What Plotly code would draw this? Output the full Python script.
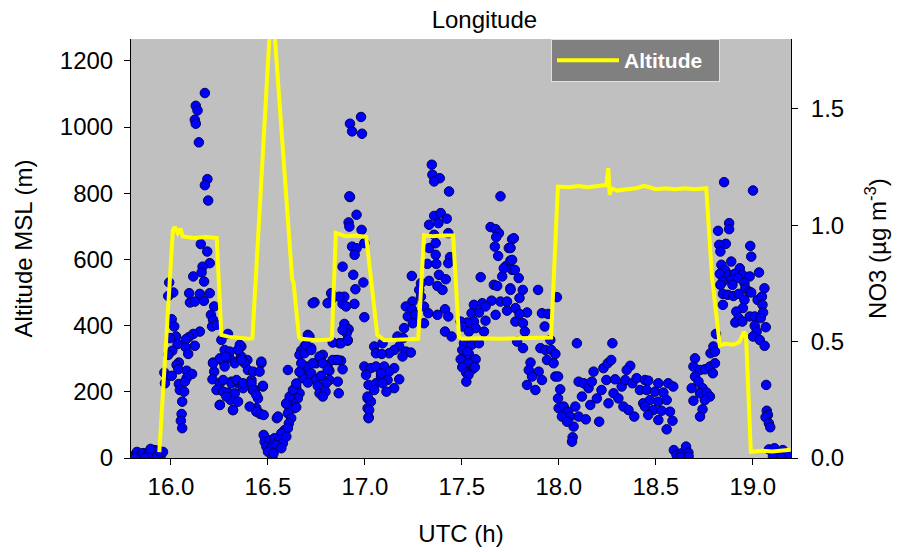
import plotly.graph_objects as go

# ---------------- Altitude (left axis, m) ----------------
alt_utc = [15.94, 16.01, 16.02, 16.035, 16.05, 16.06, 16.08, 16.12, 16.18, 16.236,
           16.26, 16.30, 16.40, 16.42, 16.52, 16.625, 16.632, 16.66, 16.67, 16.75,
           16.82, 16.83, 16.85, 16.90, 16.95, 17.0, 17.007, 17.064, 17.10, 17.20,
           17.275, 17.305, 17.35, 17.40, 17.455, 17.485, 17.50, 17.60, 17.70, 17.80,
           17.90, 17.96, 17.995, 18.05, 18.10, 18.15, 18.20, 18.245, 18.255, 18.262,
           18.27, 18.30, 18.35, 18.40, 18.44, 18.50, 18.55, 18.60, 18.65, 18.70,
           18.76, 18.785, 18.79, 18.83, 18.86, 18.90, 18.93, 18.955, 18.965, 18.99,
           19.05, 19.10, 19.15, 19.195]
alt_m = [18, 689, 698, 680, 693, 670, 668, 665, 668, 665,
         372, 366, 360, 362, 1400, 540, 530, 366, 360, 356,
         358, 362, 680, 670, 672, 670, 668, 372, 356, 358,
         360, 673, 670, 672, 672, 366, 360, 362, 360, 362,
         362, 364, 820, 818, 822, 818, 822, 825, 876, 795,
         815, 808, 812, 815, 822, 812, 815, 812, 815, 812,
         815, 560, 545, 340, 345, 342, 350, 381, 370, 19,
         22, 20, 22, 25]

# ---------------- NO3 (right axis, ug m-3) ----------------
no3_utc = [
    # start, near zero
    15.805, 15.825, 15.841, 15.856, 15.872, 15.887, 15.902, 15.918, 15.933, 15.949,
    15.959, 15.815, 15.864, 15.895, 15.926, 15.94,
    # 16.0 - 16.45
    16.175, 16.128, 16.137, 16.123, 16.128, 16.144, 16.188, 16.175, 16.192, 16.154,
    16.187, 16.2, 16.163, 16.158, 16.171, 16.115, 15.991, 16.012, 15.986, 16.094,
    16.149, 16.098, 16.123, 16.170, 16.2, 16.223, 16.004, 16.206, 16.017, 16.217,
    16.212, 16.235, 16.026, 15.995, 16.149, 16.115, 16.092, 16.077, 16.034, 16.26,
    16.123, 16.076, 16.294, 16.277, 16.007, 16.089, 15.986, 16.041, 16.029, 16.217,
    16.269, 16.303, 16.346, 16.363, 16.038, 16.081, 16.109, 15.966, 15.981, 16.004,
    16.223, 16.277, 16.355, 16.394, 16.081, 15.969, 16.041, 16.072, 16.214, 16.252,
    16.312, 16.346, 16.046, 16.068, 16.235, 16.269, 16.294, 16.329, 16.372, 16.058,
    16.308, 16.252, 16.32, 16.055, 16.051, 16.058,
    16.303, 16.355, 16.363, 16.380, 16.397, 16.415, 16.432, 16.449, 16.474, 16.466,
    16.440, 16.457, 16.320, 16.346, 16.406, 16.252, 16.286, 16.312, 16.338, 16.372,
    16.269, 16.217, 16.252, 16.283, 16.329, 16.346, 16.363, 16.423,
    # 16.45 - 17.1
    16.980, 16.923, 16.934, 16.985, 16.923, 16.957, 16.916, 16.920, 16.983, 16.934,
    16.957, 16.947, 16.997, 16.885, 16.940, 16.992, 16.951, 16.826, 16.834, 16.808,
    16.740, 16.894, 16.885, 16.946, 16.997, 16.894, 16.916, 16.906, 16.911, 16.706,
    16.868, 16.834, 16.689, 16.723, 16.672, 16.663, 17.048, 17.057, 16.783, 16.851,
    16.877, 16.466, 16.749, 16.697, 16.808, 16.603, 16.817, 16.885, 16.672, 16.723,
    16.423, 16.457, 16.997, 17.031, 17.057, 17.006, 17.083, 16.680, 16.749, 16.774,
    16.817, 16.860, 16.706, 16.800, 16.474, 16.415, 16.757, 17.019, 17.057, 16.766,
    16.797, 16.865, 17.048, 16.646, 16.663, 16.423, 16.440, 16.783, 16.654, 16.629,
    16.595, 17.014, 17.031, 16.637, 16.612, 16.646, 16.440, 16.461, 16.478, 17.014,
    17.019, 16.546, 16.603, 16.620, 16.608, 16.586, 16.603, 16.569, 16.478, 16.483,
    16.509, 16.534, 16.557, 16.577, 16.492, 16.517, 16.543, 16.569, 16.500, 16.523,
    16.529, 16.595,
    16.552, 16.595, 16.612, 16.629, 16.646, 16.663, 16.672, 16.689, 16.697, 16.714,
    16.723, 16.731, 16.766, 16.783, 16.808, 16.834, 16.860, 16.877, 16.731, 16.868,
    16.903, 16.885, 16.911, 16.920, 17.014, 17.022, 17.019,
    # 17.1 - 17.78
    17.345, 17.348, 17.386, 17.357, 17.434, 17.699, 17.357, 17.391, 17.422, 17.331,
    17.379, 17.648, 17.674, 17.691, 17.759, 17.357, 17.430, 17.677, 17.331, 17.365,
    17.742, 17.670, 17.687, 17.365, 17.439, 17.322, 17.368, 17.430, 17.728, 17.750,
    17.716, 17.759, 17.242, 17.382, 17.597, 17.708, 17.417, 17.331, 17.289, 17.374,
    17.665, 17.682, 17.750, 17.400, 17.280, 17.289, 17.653, 17.699, 17.733, 17.245,
    17.562, 17.605, 17.622, 17.211, 17.242, 17.305, 17.413, 17.733, 17.674, 17.550,
    17.588, 17.327, 17.374, 17.430, 17.221, 17.260, 17.622, 17.562, 17.528, 17.494,
    17.247, 17.305, 17.202, 17.571, 17.614, 17.502, 17.413, 17.447, 17.536, 17.168,
    17.197, 17.511, 17.550, 17.588, 17.091, 17.177, 17.151, 17.211, 17.237, 17.502,
    17.536, 17.528, 17.125, 17.087, 17.194, 17.528, 17.571, 17.494, 17.534, 17.502,
    17.554, 17.567, 17.100, 17.151, 17.125, 17.083, 17.522, 17.534, 17.177, 17.117,
    17.091, 17.151, 17.111, 17.523,
    # 17.75 - 18.45
    17.768, 17.751, 17.759, 17.773, 17.793, 17.814, 17.751, 17.893, 17.990, 17.797,
    17.776, 17.836, 17.797, 17.913, 17.944, 17.776, 17.815, 17.927, 17.825, 17.785,
    17.956, 17.815, 17.905, 17.931, 17.961, 17.982, 18.093, 18.276, 17.939, 17.854,
    17.973, 17.982, 17.996, 17.845, 17.896, 17.862, 17.913, 17.836, 17.879, 18.007,
    17.996, 17.999, 18.025, 18.047, 18.016, 18.059, 18.085, 18.102, 18.076, 18.071,
    18.068, 18.042, 18.139, 18.102, 18.128, 18.119, 18.153, 18.179, 18.170, 18.162,
    18.196, 18.208, 18.230, 18.252, 18.270, 18.220, 18.245, 18.256, 18.290, 18.282,
    18.307, 18.324, 18.333, 18.359, 18.368, 18.350, 18.342, 18.379, 18.401, 18.389,
    18.418, 18.435, 18.444,
    # 18.45 - 19.2
    18.461, 18.513, 18.564, 18.590, 18.453, 18.496, 18.539, 18.470, 18.513, 18.556,
    18.444, 18.487, 18.530, 18.573, 18.461, 18.513, 18.586, 18.556,
    18.593, 18.607, 18.633, 18.656, 18.668, 18.649, 18.627, 18.669,
    18.702, 18.694, 18.728, 18.753, 18.779, 18.805, 18.794, 18.702, 18.720, 18.685,
    18.741, 18.728, 18.762, 18.779, 18.753, 18.694, 18.741, 18.728, 18.782, 18.797,
    18.805, 18.810,
    18.852, 19.001, 18.878, 18.878, 18.821, 18.861, 18.827, 18.833, 18.987, 18.992,
    18.889, 18.838, 18.856, 18.933, 19.032, 18.830, 18.878, 18.907, 18.946, 18.984,
    18.846, 18.889, 18.923, 18.957, 18.833, 18.895, 19.060, 18.962, 18.979, 18.846,
    18.871, 18.900, 18.927, 18.992, 18.957, 19.025, 19.047, 18.846, 18.949, 19.050,
    18.915, 19.053, 18.984, 19.010, 18.927, 19.041, 18.910, 18.946, 19.010, 19.067,
    19.020, 19.001, 19.036, 19.061,
    19.069, 19.072, 19.078, 19.066, 19.083, 19.090,
    19.083, 19.112, 19.129, 19.155, 19.176, 19.104, 19.147,
]
no3_val = [
    0.009, 0.026, 0.013, 0.021, 0.009, 0.026, 0.013, 0.034, 0.021, 0.013,
    0.026, 0.0, 0.0, 0.039, 0.004, 0.030,
    1.568, 1.513, 1.493, 1.453, 1.436, 1.356, 1.198, 1.172, 1.106, 0.919,
    0.887, 0.837, 0.822, 0.797, 0.758, 0.780, 0.754, 0.711, 0.696, 0.708,
    0.705, 0.668, 0.672, 0.675, 0.708, 0.651, 0.596, 0.615, 0.565, 0.593,
    0.565, 0.572, 0.522, 0.515, 0.543, 0.533, 0.519, 0.510, 0.489, 0.507,
    0.482, 0.476, 0.533, 0.464, 0.461, 0.447, 0.443, 0.410, 0.400, 0.410,
    0.414, 0.428, 0.464, 0.479, 0.381, 0.375, 0.361, 0.367, 0.350, 0.353,
    0.371, 0.393, 0.424, 0.421, 0.343, 0.321, 0.318, 0.328, 0.338, 0.321,
    0.328, 0.321, 0.292, 0.285, 0.292, 0.285, 0.281, 0.278, 0.300, 0.242,
    0.249, 0.228, 0.206, 0.189, 0.160, 0.128,
    0.457, 0.486, 0.436, 0.407, 0.378, 0.335, 0.292, 0.256, 0.307, 0.407,
    0.214, 0.192, 0.206, 0.242, 0.221, 0.228, 0.264, 0.321, 0.335, 0.321,
    0.335, 0.407, 0.428, 0.436, 0.407, 0.464, 0.421, 0.292,
    1.465, 1.436, 1.403, 1.393, 1.121, 1.045, 1.012, 0.994, 0.980, 0.908,
    0.901, 0.873, 0.923, 0.822, 0.787, 0.754, 0.725, 0.708, 0.687, 0.665,
    0.669, 0.693, 0.662, 0.662, 0.605, 0.576, 0.553, 0.536, 0.504, 0.529,
    0.493, 0.496, 0.479, 0.472, 0.461, 0.443, 0.479, 0.450, 0.443, 0.421,
    0.418, 0.414, 0.407, 0.393, 0.400, 0.378, 0.375, 0.381, 0.367, 0.364,
    0.371, 0.371, 0.393, 0.386, 0.393, 0.357, 0.350, 0.343, 0.338, 0.353,
    0.335, 0.328, 0.324, 0.321, 0.310, 0.321, 0.310, 0.314, 0.321, 0.278,
    0.285, 0.278, 0.292, 0.304, 0.278, 0.292, 0.271, 0.264, 0.256, 0.238,
    0.232, 0.256, 0.242, 0.214, 0.206, 0.218, 0.199, 0.189, 0.185, 0.214,
    0.175, 0.171, 0.192, 0.171, 0.149, 0.120, 0.128, 0.106, 0.099, 0.070,
    0.077, 0.085, 0.077, 0.063, 0.049, 0.042, 0.056, 0.042, 0.027, 0.003,
    0.020, 0.092,
    0.178, 0.235, 0.264, 0.292, 0.320, 0.370, 0.407, 0.450, 0.486, 0.522,
    0.464, 0.407, 0.436, 0.407, 0.378, 0.421, 0.421, 0.493, 0.665, 0.693,
    0.651, 0.550, 0.507, 1.124, 0.264, 0.206, 0.171,
    1.260, 1.217, 1.202, 1.188, 1.145, 1.124, 1.040, 1.052, 1.028, 1.002,
    1.009, 0.992, 0.983, 0.966, 0.940, 0.959, 0.966, 0.949, 0.902, 0.923,
    0.902, 0.908, 0.868, 0.873, 0.863, 0.834, 0.834, 0.837, 0.825, 0.848,
    0.815, 0.808, 0.782, 0.787, 0.777, 0.780, 0.768, 0.761, 0.751, 0.739,
    0.744, 0.739, 0.729, 0.722, 0.722, 0.693, 0.676, 0.672, 0.672, 0.672,
    0.658, 0.665, 0.651, 0.651, 0.639, 0.651, 0.639, 0.633, 0.615, 0.622,
    0.625, 0.622, 0.615, 0.608, 0.608, 0.615, 0.590, 0.586, 0.582, 0.586,
    0.579, 0.579, 0.558, 0.558, 0.543, 0.565, 0.543, 0.522, 0.543, 0.522,
    0.515, 0.493, 0.486, 0.493, 0.493, 0.479, 0.464, 0.457, 0.453, 0.464,
    0.447, 0.457, 0.450, 0.447, 0.436, 0.421, 0.424, 0.424, 0.407, 0.390,
    0.381, 0.390, 0.393, 0.386, 0.371, 0.364, 0.367, 0.357, 0.338, 0.335,
    0.321, 0.300, 0.285, 0.328,
    0.944, 0.902, 0.851, 0.808, 0.773, 0.722, 0.722, 0.722, 0.691, 0.687,
    0.644, 0.625, 0.619, 0.622, 0.619, 0.586, 0.579, 0.565, 0.543, 0.500,
    0.507, 0.472, 0.472, 0.464, 0.464, 0.447, 0.493, 0.493, 0.421, 0.410,
    0.407, 0.350, 0.350, 0.378, 0.371, 0.350, 0.335, 0.314, 0.292, 0.295,
    0.256, 0.214, 0.221, 0.199, 0.178, 0.178, 0.221, 0.178, 0.135, 0.089,
    0.070, 0.156, 0.166, 0.328, 0.321, 0.264, 0.300, 0.371, 0.328, 0.228,
    0.256, 0.156, 0.386, 0.407, 0.421, 0.292, 0.335, 0.235, 0.338, 0.278,
    0.256, 0.307, 0.221, 0.206, 0.396, 0.378, 0.335, 0.321, 0.343, 0.178,
    0.292, 0.235, 0.335,
    0.332, 0.321, 0.321, 0.307, 0.292, 0.285, 0.281, 0.249, 0.242, 0.249,
    0.221, 0.206, 0.203, 0.199, 0.185, 0.163, 0.160, 0.123,
    0.034, 0.013, 0.020, 0.049, 0.023, 0.0, 0.003, 0.006,
    0.428, 0.393, 0.378, 0.381, 0.393, 0.407, 0.364, 0.350, 0.328, 0.300,
    0.300, 0.278, 0.281, 0.264, 0.249, 0.246, 0.209, 0.178, 0.450, 0.479,
    0.457, 0.533,
    1.185, 1.149, 1.009, 0.983, 0.976, 0.920, 0.916, 0.887, 0.911, 0.865,
    0.844, 0.830, 0.808, 0.815, 0.797, 0.791, 0.787, 0.791, 0.787, 0.780,
    0.758, 0.765, 0.773, 0.751, 0.744, 0.744, 0.729, 0.729, 0.715, 0.705,
    0.701, 0.696, 0.705, 0.711, 0.679, 0.679, 0.693, 0.658, 0.644, 0.658,
    0.629, 0.625, 0.608, 0.608, 0.601, 0.601, 0.582, 0.586, 0.568, 0.562,
    0.543, 0.522, 0.507, 0.482,
    0.314, 0.203, 0.185, 0.175, 0.149, 0.132,
    0.037, 0.042, 0.020, 0.034, 0.013, 0.006, 0.003,
]

x_ticks = [16.0, 16.5, 17.0, 17.5, 18.0, 18.5, 19.0]
alt_ticks = [0, 200, 400, 600, 800, 1000, 1200]
no3_ticks = [0.0, 0.5, 1.0, 1.5]

FONT = "Arial, Liberation Sans, sans-serif"
FS = 24

fig = go.Figure()
fig.add_trace(go.Scatter(
    x=no3_utc, y=no3_val, mode="markers", yaxis="y", showlegend=False,
    marker=dict(size=9.5, color="#0000ff", line=dict(color="#000060", width=1)),
    name="NO3"))
fig.add_trace(go.Scatter(
    x=alt_utc, y=alt_m, mode="lines", yaxis="y2", name="<b>Altitude</b>\u00a0\u00a0",
    line=dict(color="#ffff00", width=4)))

axis_common = dict(showgrid=False, zeroline=False, showline=True, linecolor="black",
                   linewidth=1, ticks="outside", ticklen=6, tickcolor="black",
                   automargin=False,
                   tickfont=dict(family=FONT, size=FS, color="black"))

fig.update_layout(
    width=897, height=552,
    margin=dict(l=131, r=106, t=39, b=94),
    paper_bgcolor="white", plot_bgcolor="#c0c0c0",
    font=dict(family=FONT, color="black"),
    title=dict(text="Longitude", x=0.54, xref="container", xanchor="center",
               y=1 - 20 / 552, yref="container", yanchor="middle",
               font=dict(family=FONT, size=FS, color="black")),
    xaxis=dict(range=[15.794, 19.197], tickvals=x_ticks,
               ticktext=[f"{v:.1f}" for v in x_ticks], ticklabelstandoff=1,
               title=dict(text="UTC (h)", font=dict(family=FONT, size=FS), standoff=26),
               mirror=False, **axis_common),
    yaxis=dict(range=[0, 1.8], side="right", tickvals=no3_ticks,
               ticktext=[f"{v:.1f}" for v in no3_ticks], ticklabelstandoff=8,
               title=dict(text="NO3 (\u00b5g m<sup>-3</sup>)", font=dict(family=FONT, size=FS),
                          standoff=26),
               **axis_common),
    yaxis2=dict(range=[0, 1266], side="left", overlaying="y", tickvals=alt_ticks,
                ticklabelstandoff=6,
                title=dict(text="Altitude MSL (m)", font=dict(family=FONT, size=FS),
                           standoff=20),
                **axis_common),
    legend=dict(x=(551 - 131) / 660, y=1.0, xanchor="left", yanchor="top",
                bgcolor="#808080", bordercolor="#e0e0e0", borderwidth=1,
                font=dict(family=FONT, size=21, color="white"), itemwidth=62),
)

fig.write_html("out.html")
